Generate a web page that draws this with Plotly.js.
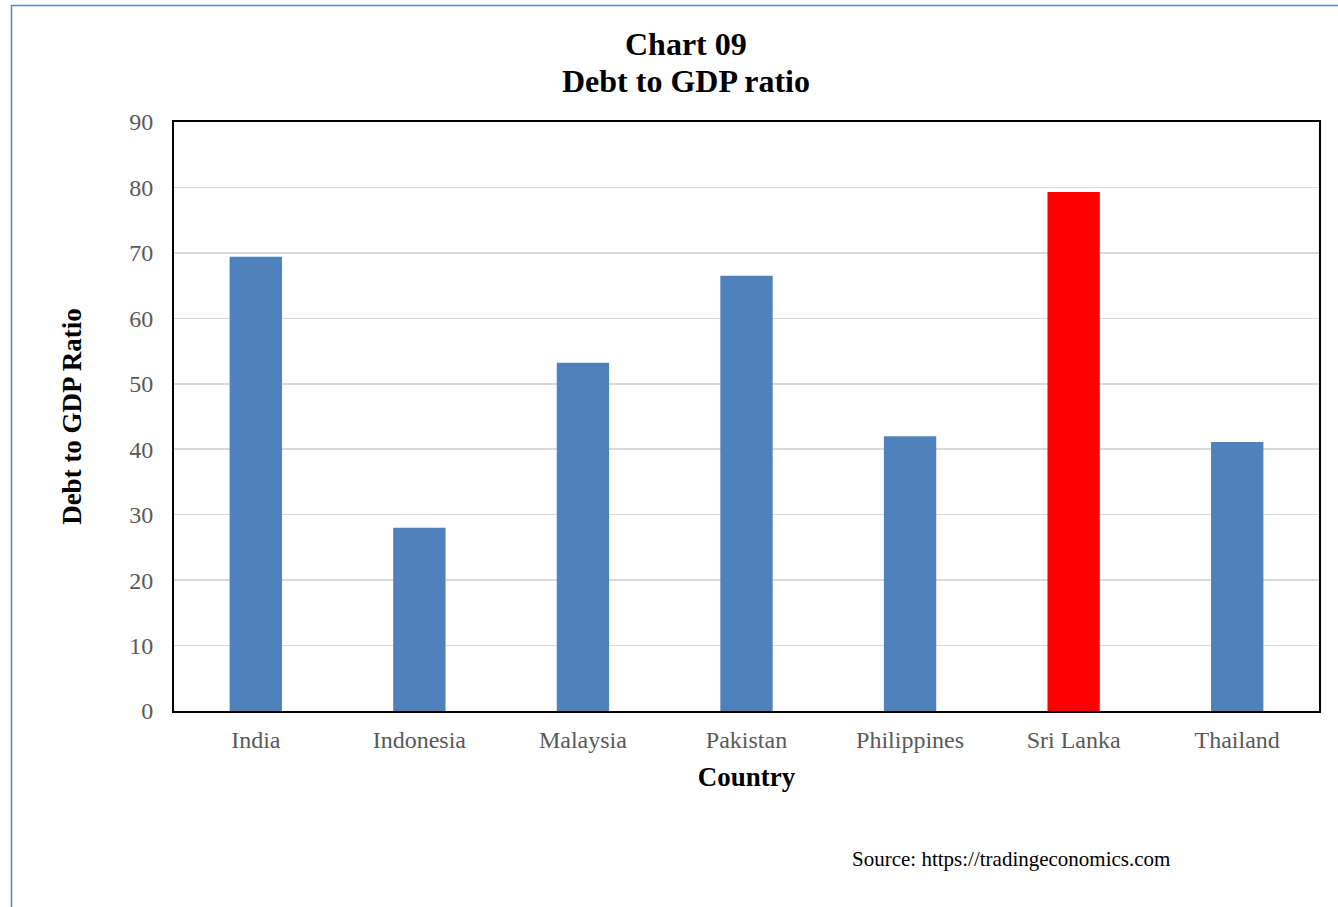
<!DOCTYPE html>
<html>
<head>
<meta charset="utf-8">
<script src="https://cdn.plot.ly/plotly-3.0.1.min.js"></script>
<style>
  html, body { margin: 0; padding: 0; background: #fff; }
  #chart { width: 1338px; height: 907px; }
</style>
</head>
<body>
<div id="chart"></div>
<script>
// Debt to GDP ratio by country (%)
const countries = ["India", "Indonesia", "Malaysia", "Pakistan", "Philippines", "Sri Lanka", "Thailand"];
const debtToGdp = [69.4, 28.0, 53.2, 66.5, 42.0, 79.3, 41.1];
const highlightCountry = "Sri Lanka";
const yTicks = [0, 10, 20, 30, 40, 50, 60, 70, 80, 90];
const titleLines = ["Chart 09", "Debt to GDP ratio"];

const barBlue = "#4f81bd";
const barRed = "#ff0000";
const serif = "Liberation Serif, Times New Roman, serif";

const trace = {
  type: "bar",
  x: countries,
  y: debtToGdp,
  marker: { color: countries.map(c => c === highlightCountry ? barRed : barBlue) },
  hoverinfo: "x+y"
};

const W = 1338, H = 907;
const mL = 174, mR = 19, mT = 122, mB = 196;
const plotW = W - mL - mR, plotH = H - mT - mB;
// convert page pixels to paper coordinates
const px = x => (x - mL) / plotW;
const py = y => (H - mB - y) / plotH;

const titleAnnotations = titleLines.map((t, i) => ({
  text: "<b>" + t + "</b>",
  xref: "paper", yref: "paper",
  x: px(686), y: py(44 + 37 * i), xanchor: "center", yanchor: "middle",
  showarrow: false,
  font: { family: serif, size: 32, color: "#000000" }
}));

const layout = {
  width: W,
  height: H,
  margin: { l: mL, r: mR, t: mT, b: mB, pad: 0 },
  paper_bgcolor: "#ffffff",
  plot_bgcolor: "#ffffff",
  showlegend: false,
  bargap: 0.68,
  font: { family: serif, color: "#595959" },
  xaxis: {
    type: "category",
    showline: true, linecolor: "#000000", linewidth: 2, mirror: true,
    showgrid: false,
    ticks: "", ticklabelstandoff: 6,
    tickfont: { family: serif, size: 24, color: "#595959" },
    title: { text: "<b>Country</b>", font: { family: serif, size: 27, color: "#000000" }, standoff: 15 }
  },
  yaxis: {
    range: [0, 90],
    tickvals: yTicks,
    showline: true, linecolor: "#000000", linewidth: 2, mirror: true,
    showgrid: true, gridcolor: "#d9d9d9", gridwidth: 1.5,
    zeroline: false,
    ticks: "", ticklabelstandoff: 14,
    tickfont: { family: serif, size: 24, color: "#595959" },
    title: { text: "<b>Debt to GDP Ratio</b>", font: { family: serif, size: 27, color: "#000000" }, standoff: 40 }
  },
  annotations: titleAnnotations.concat([{
    text: "Source: https://tradingeconomics.com",
    xref: "paper", yref: "paper",
    x: px(1011), y: py(859), xanchor: "center", yanchor: "middle",
    showarrow: false,
    font: { family: serif, size: 21, color: "#000000" }
  }]),
  shapes: [{
    type: "rect", xref: "paper", yref: "paper", layer: "below",
    x0: px(11.5), x1: px(1360), y0: py(930), y1: py(5.5),
    line: { color: "#5b87c5", width: 1.5 },
    fillcolor: "rgba(0,0,0,0)"
  }]
};

Plotly.newPlot("chart", [trace], layout, { displayModeBar: false, staticPlot: true });
</script>
</body>
</html>
